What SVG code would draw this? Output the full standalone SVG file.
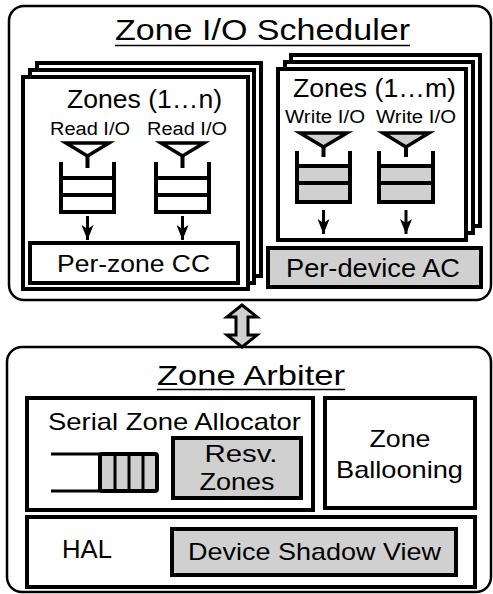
<svg xmlns="http://www.w3.org/2000/svg" width="493" height="594" viewBox="0 0 493 594">
<style>
.t{font-family:"Liberation Sans",Arial,Helvetica,sans-serif;fill:#000}
.outer{fill:#fff;stroke:#000;stroke-width:2.5}
.box{fill:#fff;stroke:#000;stroke-width:4}
.gbox{fill:#d0d0d0;stroke:#000;stroke-width:4}
.ul{stroke:#000;stroke-width:1.5}
.bucket{fill:none;stroke:#000;stroke-width:4;stroke-linejoin:miter}
.cell{fill:#d0d0d0;stroke:none}
.fun{fill:#fff;stroke:#000;stroke-width:3.5;stroke-linejoin:miter}
.gfun{fill:#d0d0d0;stroke:#000;stroke-width:3.5;stroke-linejoin:miter}
.stem{stroke:#000;stroke-width:4}
.arr{stroke:#000;stroke-width:3;fill:none;marker-end:url(#ah)}
.dbl{fill:#d0d0d0;stroke:#000;stroke-width:3;stroke-linejoin:miter}
.q{stroke:#000;stroke-width:3;fill:none}
</style>
<defs>
<marker id="ah" markerUnits="userSpaceOnUse" viewBox="0 -6 15 12" refX="15" refY="0" markerWidth="15" markerHeight="12" orient="auto">
<path d="M0,-6 L15,0 L0,6 L4,0 Z" fill="#000"/>
</marker>
</defs>

<g id="zone-io-scheduler">
<rect class="outer" x="9" y="6" width="482" height="294" rx="15"/>
<text class="t" x="115" y="40" font-size="30" textLength="295" lengthAdjust="spacingAndGlyphs">Zone I/O Scheduler</text>
<line class="ul" x1="115" y1="45.5" x2="410" y2="45.5"/>
</g>

<g id="zones-read">
<rect class="box" x="37" y="63" width="224" height="213"/>
<rect class="box" x="30" y="70" width="224" height="213"/>
<rect class="box" x="23" y="77" width="225" height="212"/>
<text class="t" x="67" y="108" font-size="25" textLength="155" lengthAdjust="spacingAndGlyphs">Zones (1…n)</text>
<text class="t" x="50" y="135" font-size="18" textLength="80" lengthAdjust="spacingAndGlyphs">Read I/O</text>
<text class="t" x="147" y="135" font-size="18" textLength="80" lengthAdjust="spacingAndGlyphs">Read I/O</text>
<polygon class="fun" points="66,143 109,143 87.5,156"/>
<line class="stem" x1="87.5" y1="155" x2="87.5" y2="168"/>
<path class="bucket" d="M61,162 V212 H114 V162 M61,178 H114 M61,195 H114"/>
<polygon class="fun" points="161,143 204,143 182.5,156"/>
<line class="stem" x1="182.5" y1="155" x2="182.5" y2="168"/>
<path class="bucket" d="M156,162 V212 H209 V162 M156,178 H209 M156,195 H209"/>
</g>

<g id="zones-write">
<rect class="box" x="291" y="55" width="189" height="171"/>
<rect class="box" x="285" y="62" width="188" height="171"/>
<rect class="box" x="278" y="69" width="188" height="171"/>
<text class="t" x="293" y="97" font-size="25" textLength="163" lengthAdjust="spacingAndGlyphs">Zones (1…m)</text>
<text class="t" x="285" y="123" font-size="18" textLength="80" lengthAdjust="spacingAndGlyphs">Write I/O</text>
<text class="t" x="376" y="123" font-size="18" textLength="80" lengthAdjust="spacingAndGlyphs">Write I/O</text>
<polygon class="gfun" points="300,133 347,133 323.5,147"/>
<line class="stem" x1="323.5" y1="146" x2="323.5" y2="157"/>
<rect class="cell" x="297" y="166" width="53" height="17"/>
<rect class="cell" x="297" y="183" width="53" height="19"/>
<path class="bucket" d="M297,151 V202 H350 V151 M297,166 H350 M297,183 H350"/>
<polygon class="gfun" points="383,133 429,133 406,147"/>
<line class="stem" x1="406" y1="146" x2="406" y2="157"/>
<rect class="cell" x="379" y="166" width="54" height="17"/>
<rect class="cell" x="379" y="183" width="54" height="19"/>
<path class="bucket" d="M379,151 V202 H433 V151 M379,166 H433 M379,183 H433"/>
</g>

<g id="per-zone-cc">
<rect class="box" x="30" y="243" width="208" height="40"/>
<text class="t" x="57" y="272" font-size="24" textLength="153" lengthAdjust="spacingAndGlyphs">Per-zone CC</text>
</g>

<g id="per-device-ac">
<rect class="gbox" x="268" y="248" width="213" height="39"/>
<text class="t" x="286" y="277" font-size="25" textLength="174" lengthAdjust="spacingAndGlyphs">Per-device AC</text>
</g>

<g id="zone-arbiter">
<rect class="outer" x="7" y="347" width="484" height="245" rx="15"/>
<text class="t" x="157" y="385" font-size="28" textLength="188" lengthAdjust="spacingAndGlyphs">Zone Arbiter</text>
<line class="ul" x1="157" y1="389.5" x2="345" y2="389.5"/>
</g>

<g id="serial-zone-allocator">
<rect class="box" x="27" y="398" width="286" height="112"/>
<text class="t" x="48" y="430" font-size="24" textLength="253" lengthAdjust="spacingAndGlyphs">Serial Zone Allocator</text>
<line class="q" x1="51" y1="454" x2="101" y2="454"/>
<line class="q" x1="51" y1="491" x2="101" y2="491"/>
<rect x="100" y="454" width="57" height="37" rx="2" fill="#d0d0d0" stroke="#000" stroke-width="4"/>
<path class="q" d="M115,454 V491 M129,454 V491 M143,454 V491"/>
</g>

<g id="resv-zones">
<rect class="gbox" x="173" y="438" width="128" height="60"/>
<text class="t" x="241" y="462" font-size="24" text-anchor="middle" textLength="73" lengthAdjust="spacingAndGlyphs">Resv.</text>
<text class="t" x="237" y="490" font-size="24" text-anchor="middle" textLength="75" lengthAdjust="spacingAndGlyphs">Zones</text>
</g>

<g id="zone-ballooning">
<rect class="box" x="325" y="398" width="150" height="110"/>
<text class="t" x="400" y="447" font-size="24" text-anchor="middle" textLength="61" lengthAdjust="spacingAndGlyphs">Zone</text>
<text class="t" x="399.5" y="478" font-size="24" text-anchor="middle" textLength="127" lengthAdjust="spacingAndGlyphs">Ballooning</text>
</g>

<g id="hal">
<rect class="box" x="27" y="517" width="448" height="70"/>
<text class="t" x="62" y="558" font-size="25" textLength="50" lengthAdjust="spacingAndGlyphs">HAL</text>
</g>

<g id="device-shadow-view">
<rect class="gbox" x="172" y="529" width="284" height="46"/>
<text class="t" x="188" y="560" font-size="24" textLength="253" lengthAdjust="spacingAndGlyphs">Device Shadow View</text>
</g>

<g id="connectors">
<line class="arr" x1="87.5" y1="216" x2="87.5" y2="240"/>
<line class="arr" x1="182.5" y1="216" x2="182.5" y2="240"/>
<line class="arr" x1="323.5" y1="210" x2="323.5" y2="234"/>
<line class="arr" x1="406" y1="210" x2="406" y2="234"/>
<polygon class="dbl" points="242,305 257,317 248,317 248,335 257,335 242,347 227,335 236,335 236,317 227,317"/>
</g>
</svg>
